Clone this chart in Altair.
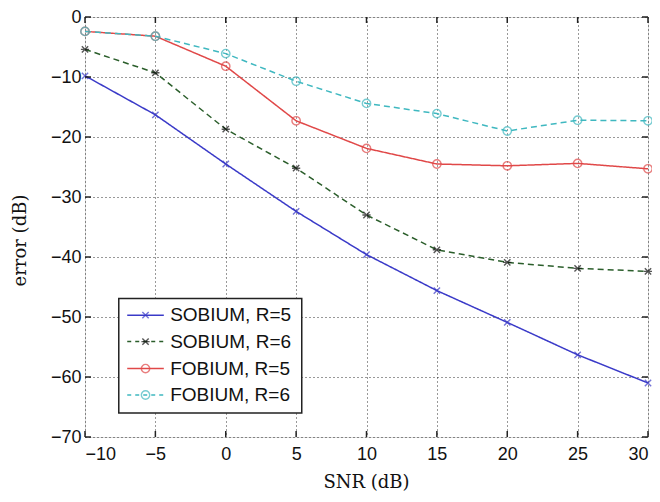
import altair as alt
import pandas as pd

snr = [-10, -5, 0, 5, 10, 15, 20, 25, 30]
sobium_r5 = [-9.8, -16.3, -24.5, -32.4, -39.6, -45.6, -50.9, -56.3, -61.0]
sobium_r6 = [-5.4, -9.3, -18.7, -25.2, -33.0, -38.8, -40.9, -41.9, -42.4]
fobium_r5 = [-2.4, -3.2, -8.2, -17.3, -21.9, -24.5, -24.8, -24.4, -25.3]
fobium_r6 = [-2.4, -3.2, -6.1, -10.7, -14.4, -16.1, -19.0, -17.2, -17.3]

series_names = ["SOBIUM, R=5", "SOBIUM, R=6", "FOBIUM, R=5", "FOBIUM, R=6"]
series_vals = [sobium_r5, sobium_r6, fobium_r5, fobium_r6]
line_colors = ["#3a3ac8", "#2b5e2b", "#e04848", "#3fb8c0"]
marker_colors = ["#3a3ac8", "#111111", "#e04848", "#3fb8c0"]
dashes = [[1, 0], [6, 4], [1, 0], [6, 4]]
X_PATH = "M-1,-1L1,1M-1,1L1,-1"
STAR_PATH = "M-1,-1L1,1M-1,1L1,-1M-1.3,0L1.3,0"
shapes = [X_PATH, STAR_PATH, "circle", "circle"]
msizes = [40, 40, 70, 70]

x_ticks = [-10, -5, 0, 5, 10, 15, 20, 25, 30]
y_ticks = [0, -10, -20, -30, -40, -50, -60, -70]

# legend placement (data units)
leg_x0, leg_x1 = -7.6, 5.4
leg_y0, leg_y1 = -46.9, -66.0
leg_rows = [-49.7, -54.1, -58.6, -63.0]

W, H = 563, 420
xs = alt.Scale(domain=[-10, 30], nice=False)
ys = alt.Scale(domain=[-70, 0], nice=False)

xax = alt.Axis(values=x_ticks, grid=True, gridColor="#000", gridDash=[1, 3], gridOpacity=0.8,
               tickSize=0, domain=False, labelFontSize=18, labelFont="Liberation Sans",
               labelColor="#111", labelPadding=8, title="SNR (dB)", titleFont="DejaVu Serif",
               titleFontSize=18, titleFontWeight="normal", titleColor="#111",
               titleX=281, titleY=45, titleBaseline="middle", titleAlign="center")
yax = alt.Axis(values=y_ticks, grid=True, gridColor="#000", gridDash=[1, 3], gridOpacity=0.8,
               tickSize=0, domain=False, labelFontSize=18, labelFont="Liberation Sans",
               labelColor="#111", labelPadding=4, title="error (dB)", titleFont="DejaVu Serif",
               titleFontSize=18, titleFontWeight="normal", titleColor="#111",
               titleX=-65, titleY=223, titleBaseline="middle", titleAlign="center", titleAngle=-90)

rows = []
for name, vals in zip(series_names, series_vals):
    for xv, yv in zip(snr, vals):
        rows.append({"series": name, "snr": xv, "err": yv})
df = pd.DataFrame(rows)

base = alt.Chart(df).encode(x=alt.X("snr:Q", scale=xs, axis=xax), y=alt.Y("err:Q", scale=ys, axis=yax))

layers = [base.mark_point(opacity=0).encode()]
for i, name in enumerate(series_names):
    sub = alt.Chart(df[df.series == name]).encode(x=alt.X("snr:Q", scale=xs), y=alt.Y("err:Q", scale=ys))
    layers.append(sub.mark_line(color=line_colors[i], strokeDash=dashes[i], strokeWidth=1.5))
for i, name in enumerate(series_names):
    sub = alt.Chart(df[df.series == name]).encode(x=alt.X("snr:Q", scale=xs), y=alt.Y("err:Q", scale=ys))
    layers.append(sub.mark_point(shape=shapes[i], size=msizes[i], filled=False,
                                 color=marker_colors[i], strokeWidth=1.4))

# inward ticks
xt = pd.DataFrame({"v": x_ticks})
yt = pd.DataFrame({"v": y_ticks})
layers.append(alt.Chart(xt).mark_rule(color="#222", strokeWidth=1.5).encode(
    x=alt.X("v:Q", scale=xs), y=alt.value(0), y2=alt.value(6)))
layers.append(alt.Chart(xt).mark_rule(color="#222", strokeWidth=1.5).encode(
    x=alt.X("v:Q", scale=xs), y=alt.value(H), y2=alt.value(H - 6)))
layers.append(alt.Chart(yt).mark_rule(color="#222", strokeWidth=1.5).encode(
    y=alt.Y("v:Q", scale=ys), x=alt.value(0), x2=alt.value(6)))
layers.append(alt.Chart(yt).mark_rule(color="#222", strokeWidth=1.5).encode(
    y=alt.Y("v:Q", scale=ys), x=alt.value(W), x2=alt.value(W - 6)))

# legend
box = pd.DataFrame({"x0": [leg_x0], "x1": [leg_x1], "y0": [leg_y0], "y1": [leg_y1]})
layers.append(alt.Chart(box).mark_rect(fill="white", stroke="#222", strokeWidth=1.5).encode(
    x=alt.X("x0:Q", scale=xs), x2="x1:Q", y=alt.Y("y0:Q", scale=ys), y2="y1:Q"))
for i, name in enumerate(series_names):
    ly = leg_rows[i]
    seg = pd.DataFrame({"x": [-7.0, -4.4], "y": [ly, ly]})
    layers.append(alt.Chart(seg).mark_line(color=line_colors[i], strokeDash=[4, 4] if dashes[i][1] else [1, 0],
                                           strokeWidth=1.5).encode(
        x=alt.X("x:Q", scale=xs), y=alt.Y("y:Q", scale=ys)))
    pt = pd.DataFrame({"x": [-5.7], "y": [ly], "t": [name], "tx": [-3.95]})
    layers.append(alt.Chart(pt).mark_point(shape=shapes[i], size=msizes[i], filled=False,
                                           color=marker_colors[i], strokeWidth=1.4).encode(
        x=alt.X("x:Q", scale=xs), y=alt.Y("y:Q", scale=ys)))
    layers.append(alt.Chart(pt).mark_text(align="left", baseline="middle", font="Liberation Sans",
                                          fontSize=19, color="#111").encode(
        x=alt.X("tx:Q", scale=xs), y=alt.Y("y:Q", scale=ys), text="t:N"))

chart = alt.layer(*layers).properties(
    width=W, height=H,
    autosize=alt.AutoSizeParams(type="none"),
    padding={"left": 77, "top": 9, "right": 4, "bottom": 64},
).configure_view(stroke="#222", strokeWidth=1.8).configure(background="white")

chart.save("out.html", embed_options={"renderer": "svg", "actions": False})
